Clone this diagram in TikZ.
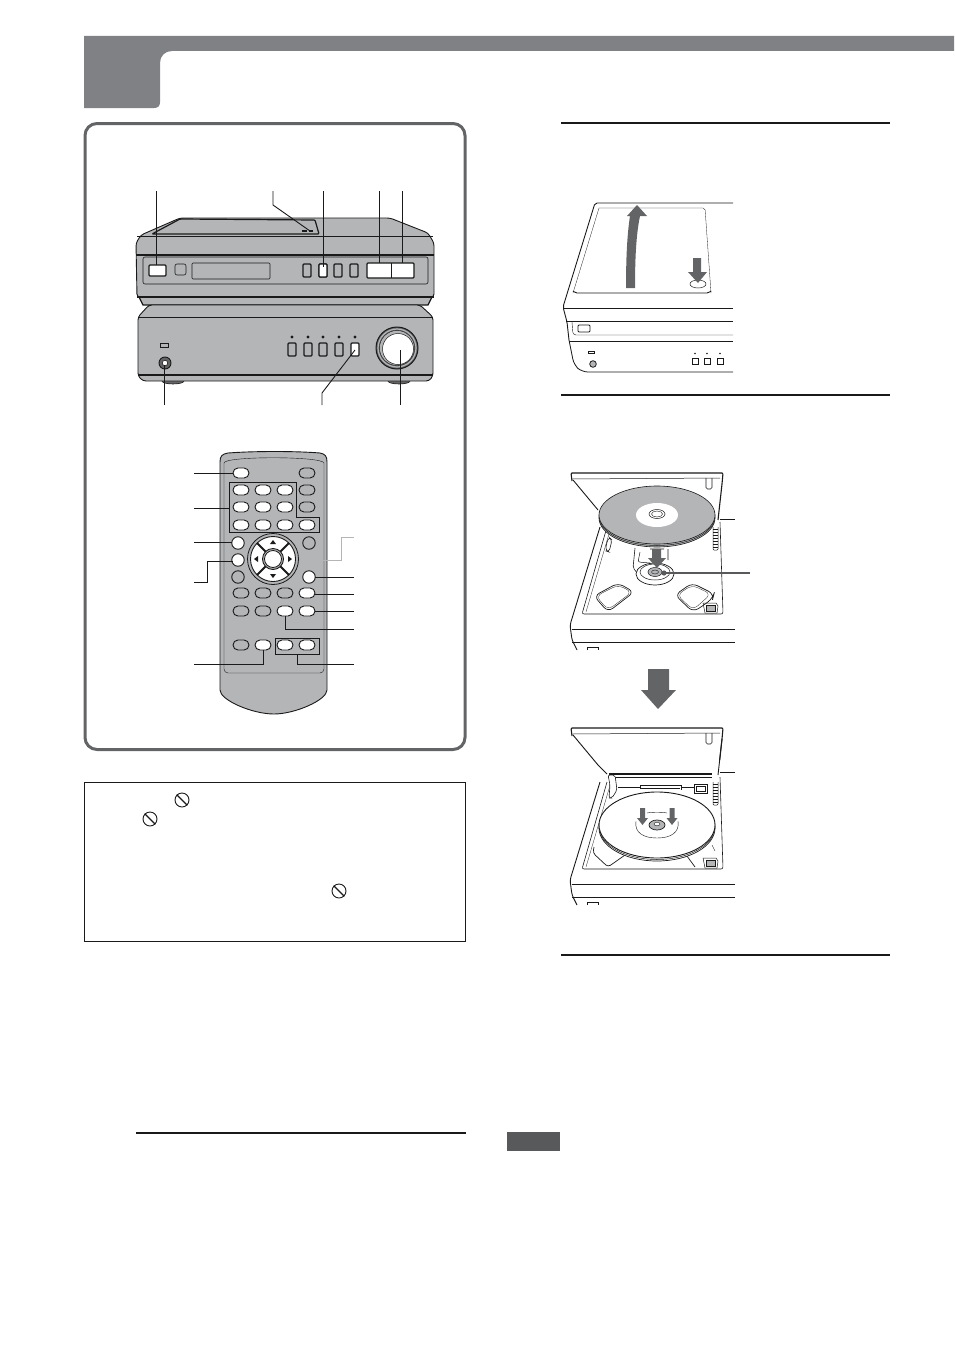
\documentclass[tikz,border=0pt]{standalone}
\usetikzlibrary{shapes.misc}
\definecolor{head-gray}{HTML}{808184}
\definecolor{frame-gray}{HTML}{636466}
\definecolor{face-gray}{HTML}{B4B5B7}
\definecolor{arrow-gray}{HTML}{636466}
\definecolor{note-gray}{HTML}{58595B}
\definecolor{ink}{HTML}{1A1A1A}
\tikzset{
  leader/.style={draw=ink, line width=0.9pt},
  rulebar/.style={draw=ink, line width=1.5pt},
  keyoval/.style={draw=ink, fill=face-gray, rounded rectangle, line width=0.9pt,
        minimum width=16pt, minimum height=10pt, inner sep=0pt},
  keyround/.style={draw=ink, fill=face-gray, circle, line width=0.9pt,
        minimum size=12.5pt, inner sep=0pt},
  unitkey/.style={draw=ink, fill=face-gray, line width=1.4pt, rounded corners=1pt},
  noentry/.style={draw=ink, fill=white, circle, line width=0.9pt, minimum size=14pt, inner sep=0pt},
  bigarrow/.style={fill=arrow-gray, draw=none},
}
% body, tray and lid shared by the two open views
\newcommand{\opendeck}{%
  \draw[ink, line width=0.9pt, rounded corners=3pt] (600,527) -- (570,625) -- (572,640) -- (577,650);
  \draw[ink, line width=0.6pt, rounded corners=2pt] (607,527) -- (582,614) -- (723,614) -- (720,522);
  \draw[ink, line width=0.3pt] (611,527) -- (586,612);
  \draw[ink, line width=0.4pt] (572,629) -- (735,629);
  \draw[ink, line width=0.9pt] (572,642) -- (735,642);
  \draw[ink, line width=0.6pt] (587,650) -- (587,647) -- (598,647) -- (598,650);
  \draw[ink, line width=1.1pt, rounded corners=1pt] (572,481) -- (571,473) -- (723,473) -- (722,484) -- (718,520);
  \draw[ink, line width=0.5pt] (572,479) -- (720,478);
  \draw[ink, line width=0.9pt] (573,480) -- (598,510);
  \draw[ink, line width=0.6pt, rounded corners=1.5pt] (706,478) -- (706,489) -- (712,489) -- (712,478);
  \draw[ink, line width=0.5pt, fill=white] (703,603) -- (716,603) -- (718,606) -- (717,613) -- (705,613) -- cycle;
  \draw[ink, line width=0.5pt, fill=face-gray] (706,605) rectangle (715,611);
  \foreach \ky in {529,532,...,549} {
    \draw[ink, line width=0.7pt] (713,\ky) -- (718,\ky);
  }
  \draw[ink, line width=0.5pt, rounded corners=1pt] (713,527) -- (713,550) -- (718,550) -- (718,527);
}
\begin{document}
\begin{tikzpicture}[x=1pt, y=-1pt]
  \useasboundingbox (0,0) rectangle (954,1346);
  % page header
  \fill[head-gray] (84,36) -- (954,36) -- (954,51) -- (172,51) .. controls (165,51) and (160,56) .. (160,63)
        -- (160,102) .. controls (160,106) and (158,108) .. (154,108) -- (84,108) -- cycle;
  % panel
  \draw[frame-gray, line width=3pt, rounded corners=12pt] (85,123.5) rectangle (465,749.5);

  % cd unit
  \filldraw[draw=ink, fill=face-gray, line width=0.9pt, rounded corners=3pt]
        (137,297) -- (136,243) -- (141,235) -- (180,218) -- (390,218) -- (428,233) -- (434,243) -- (434,297) -- cycle;
  \filldraw[draw=ink, fill=frame-gray, line width=0.6pt] (160,304) ellipse (12 and 4) (388,304) ellipse (12 and 4);
  \filldraw[draw=ink, fill=face-gray, line width=1.3pt] (139,297) -- (432,297) -- (428,305) -- (143,305) -- cycle;
  \filldraw[draw=ink, fill=face-gray, line width=1.2pt, rounded corners=1pt]
        (152,234) -- (180,219) -- (315,220) -- (319,234) -- cycle;
  \draw[ink, line width=0.4pt] (137,236) -- (433,236);
  \draw[ink, line width=1.3pt] (136,255) -- (434,255);
  \draw[ink, line width=1.6pt] (137,297) -- (434,297);
  \draw[ink, line width=1.2pt] (302,231) -- (307,231) (309,231) -- (313,231);
  \draw[ink, line width=0.6pt, rounded corners=2pt] (143,257) rectangle (428,284);
  \draw[unitkey, fill=white] (149,265) rectangle (166,276);
  \draw[ink, line width=0.6pt, rounded corners=2pt] (175,264) rectangle (186,275);
  \draw[ink, line width=0.6pt, rounded corners=1pt] (192,263) rectangle (270,279);
  \foreach \kx in {303,319,334,350} {
    \draw[unitkey] (\kx,264) rectangle ++(8,13);
  }
  \draw[unitkey, fill=white] (319,264) rectangle ++(8,13);
  \draw[unitkey, fill=white] (367,263) rectangle (414,278);
  \draw[ink, line width=0.8pt] (391,263) -- (391,278);

  % amplifier
  \filldraw[draw=ink, fill=frame-gray, line width=0.6pt] (173,381) ellipse (11 and 3) (399,381) ellipse (11 and 3);
  \filldraw[draw=ink, fill=face-gray, line width=0.9pt, rounded corners=3pt]
        (149,305) -- (420,305) -- (433,317) -- (433,376) -- (429,381) -- (143,381) -- (138,376) -- (138,317) -- cycle;
  \draw[ink, line width=0.4pt] (138,317) -- (433,317);
  \draw[ink, line width=1.1pt] (138,375) -- (433,375);
  \draw[ink, line width=0.7pt] (160,343) rectangle (168,347);
  \filldraw[draw=ink, fill=frame-gray, line width=0.9pt] (165,363) circle (6);
  \filldraw[draw=ink, fill=white, line width=0.6pt] (165,363) circle (2.8);
  \foreach \kx in {288,304,319,335} {
    \draw[unitkey] (\kx,343) rectangle ++(8,13);
    \fill[ink] (\kx+4,337) circle (1.6);
  }
  \draw[unitkey, fill=white] (351,343) rectangle ++(8,13);
  \fill[ink] (355,337) circle (1.6);
  \filldraw[draw=ink, fill=frame-gray, line width=1pt] (397,348) circle (21);
  \draw[face-gray, line width=1.2pt] (397,348) circle (19);
  \filldraw[draw=ink, fill=face-gray, line width=0.4pt] (397,348) circle (17.5);
  \filldraw[draw=ink, fill=white, line width=0.5pt] (398,349) circle (15.5);

  \draw[leader] (156,191) -- (156,265);
  \draw[leader] (273,191) -- (273,205) -- (310,231);
  \draw[leader] (323,191) -- (323,267);
  \draw[leader] (379,191) -- (379,263);
  \draw[leader] (402,191) -- (402,263);
  \draw[leader] (164,365) -- (164,405);
  \draw[leader] (322,405) -- (322,393) -- (355,350);
  \draw[leader] (400,350) -- (400,405);

  % remote
  \filldraw[draw=ink, fill=face-gray, line width=0.9pt]
        (220,462) .. controls (220,456) and (222,454) .. (228,453)
        .. controls (255,451) and (295,451) .. (320,453)
        .. controls (325,454) and (327,456) .. (327,462) -- (327,690)
        .. controls (327,700) and (295,714) .. (274,714)
        .. controls (252,714) and (220,700) .. (220,690) -- cycle;
  \draw[ink, line width=0.4pt, rounded corners=4pt] (224,463) -- (224,673) -- (324,673) -- (324,463);
  \draw[ink, line width=0.4pt] (224,463) .. controls (224,456) and (322,456) .. (324,463);
  \foreach \kx/\ky/\kf in {241/473/white, 307/473/face-gray,
        241/490/white, 263/490/white, 285/490/white, 307/490/face-gray,
        241/507/white, 263/507/white, 285/507/white, 307/507/face-gray,
        241/525/white, 263/525/white, 285/525/white, 307/525/white,
        241/593/face-gray, 263/593/face-gray, 285/593/face-gray, 307/593/white,
        241/611/face-gray, 263/611/face-gray, 285/611/white, 307/611/white,
        241/645/face-gray, 263/645/white, 285/645/white, 307/645/white} {
    \node[keyoval, fill=\kf] at (\kx,\ky) {};
  }
  \foreach \kx/\ky/\kf in {238/543/white, 309/543/face-gray, 238/560/white,
        238/577/face-gray, 309/577/white} {
    \node[keyround, fill=\kf] at (\kx,\ky) {};
  }
  \draw[ink, line width=1pt] (229,482) -- (296,482) -- (296,517) -- (319,517) -- (319,532) -- (229,532) -- cycle;
  \draw[ink, line width=1pt] (275,638) rectangle (319,654);
  % cursor pad
  \filldraw[draw=ink, fill=face-gray, line width=0.8pt] (273,559) circle (25.5);
  \filldraw[draw=ink, fill=white, line width=0.9pt] (273,559) circle (22.5);
  \filldraw[draw=ink, fill=face-gray, line width=0.9pt] (273,559) circle (10.5);
  \filldraw[draw=ink, fill=white, line width=0.8pt] (273,559) circle (8.5);
  \foreach \ka in {45,135,225,315} {
    \draw[ink, line width=1.8pt] (273,559) ++(\ka:10.5) -- ++(\ka:12);
  }
  \fill[ink] (273,540) -- (276,544) -- (270,544) -- cycle;
  \fill[ink] (273,578) -- (276,574) -- (270,574) -- cycle;
  \fill[ink] (254,559) -- (258,556) -- (258,562) -- cycle;
  \fill[ink] (292,559) -- (288,556) -- (288,562) -- cycle;

  \draw[leader] (194,473) -- (233,473);
  \draw[leader] (194,508) -- (229,508);
  \draw[leader] (194,542) -- (232,542);
  \draw[leader] (194,582) -- (207,582) -- (207,561) -- (233,561);
  \draw[leader] (194,664) -- (263,664) -- (263,650);
  \draw[leader, draw=face-gray] (354,537) -- (341,537) -- (341,560) -- (299,560);
  \draw[leader] (354,577) -- (315,577);
  \draw[leader] (354,594) -- (315,594);
  \draw[leader] (354,611) -- (315,611);
  \draw[leader] (354,629) -- (285,629) -- (285,616);
  \draw[leader] (354,664) -- (297,664) -- (297,654);

  % note box
  \draw[ink, line width=0.9pt] (84.5,782.5) rectangle (465.5,941);
  \foreach \ix/\iy in {182/800, 150/819, 339/891} {
    \node[noentry] (sign\ix) at (\ix,\iy) {};
    \draw[ink, line width=1.2pt] (sign\ix.north west) -- (sign\ix.south east);
  }

  % right column rules
  \draw[rulebar] (561,123) -- (890,123);
  \draw[rulebar] (561,395) -- (890,395);
  \draw[rulebar] (561,955) -- (890,955);
  \draw[rulebar] (136,1133) -- (466,1133);
  \fill[note-gray] (507,1132) rectangle (560,1151);

  % closed lid view
  \draw[ink, line width=0.9pt, rounded corners=2pt] (733,203) -- (595,203) -- (563,307) -- (567,322) -- (569,340);
  \draw[ink, line width=0.8pt, rounded corners=6pt] (569,340) -- (574,365) -- (582,372) -- (733,372);
  \draw[ink, line width=0.4pt] (563,308) -- (733,308);
  \draw[ink, line width=0.9pt] (566,321) -- (733,321);
  \draw[ink, line width=0.4pt, rounded corners=3pt] (572,322) -- (573,335) -- (733,335);
  \draw[ink, line width=0.9pt] (569,341) -- (733,341);
  \draw[ink, line width=0.3pt, rounded corners=2pt] (599,208) -- (705,208) -- (711,293);
  \draw[ink, line width=0.3pt, rounded corners=2pt] (599,208) -- (573,293);
  \draw[ink, line width=0.9pt, rounded corners=2pt] (573,291) -- (575,293) -- (709,293) -- (711,291);
  \draw[ink, line width=0.5pt] (698,284) ellipse (8 and 4);
  \draw[ink, line width=0.8pt, rounded corners=1pt] (578,325) rectangle (590,332);
  \draw[ink, line width=0.5pt] (588,351) rectangle (594,353);
  \filldraw[draw=ink, fill=face-gray, line width=0.8pt] (593,364) circle (3.3);
  \foreach \kx in {692,704,717} {
    \draw[ink, line width=0.8pt] (\kx,358) rectangle ++(6,6);
    \fill[ink] (\kx+3,353.5) circle (0.9);
  }
  \fill[bigarrow] (626,288) .. controls (626,260) and (627,235) .. (630,216) -- (627,216) -- (637,205)
        -- (647,216) -- (640,216) .. controls (636,235) and (635,260) .. (635,288) -- cycle;
  \fill[bigarrow] (693,258) -- (701,258) -- (701,272) -- (707,272) -- (698,283) -- (688,272) -- (693,272) -- cycle;

  % disc going in
  \opendeck
  \draw[ink, line width=0.6pt, rounded corners=2pt] (635,548) -- (633,568) -- (640,576) (650,549) -- (664,549) (668,549) -- (668,560);
  \draw[ink, line width=0.5pt, rounded corners=2pt] (640,552) -- (638,562) -- (650,563);
  \filldraw[draw=ink, fill=white, line width=0.7pt] (655,574) ellipse (19 and 11);
  \draw[ink, line width=0.5pt] (655,572) ellipse (15 and 8);
  \filldraw[draw=ink, fill=face-gray, line width=0.5pt] (655,572) ellipse (7 and 4.5);
  \draw[ink, line width=0.4pt] (655,572) ellipse (3.5 and 2);
  \draw[draw=note-gray, line width=1.2pt] (664,573) -- (750,573);
  \fill[note-gray] (664,573) circle (2.6);
  \draw[ink, line width=0.6pt, rounded corners=3pt] (606,545) -- (609,537) -- (612,540) -- (609,552) -- (606,551) -- cycle;
  \draw[ink, line width=0.7pt, rounded corners=6pt] (594,596) -- (618,583) -- (634,592) -- (608,612) -- cycle;
  \draw[ink, line width=0.3pt, rounded corners=6pt] (596,596) -- (618,585) -- (632,592) -- (608,610) -- cycle;
  \draw[ink, line width=0.7pt, rounded corners=6pt] (675,595) -- (692,583) -- (714,594) -- (713,598) -- (704,605) -- (693,612) -- cycle;
  \draw[ink, line width=0.3pt, rounded corners=6pt] (677,595) -- (692,585) -- (711,594) -- (693,610) -- cycle;
  \draw[ink, line width=0.9pt] (720,519) -- (735,519);
  \filldraw[draw=ink, fill=face-gray, line width=0.6pt] (657,518) ellipse (58 and 29);
  \filldraw[draw=ink, fill=face-gray, line width=0.5pt] (657,516.5) ellipse (58 and 29);
  \filldraw[draw=ink, fill=face-gray, line width=0.6pt] (657,515) ellipse (58 and 29);
  \filldraw[draw=none, fill=white] (657,515) ellipse (21 and 12);
  \filldraw[draw=ink, fill=white, line width=0.5pt] (657,514) ellipse (8 and 4.5);
  \draw[ink, line width=0.4pt] (657,514) ellipse (5.5 and 3);
  \fill[bigarrow] (652,549) -- (661,549) -- (661,558) -- (666,558) -- (657,568) -- (648,558) -- (652,558) -- cycle;

  % big step arrow
  \fill[bigarrow] (648,669) -- (669,669) -- (669,690) -- (676,690) -- (658,709) -- (641,690) -- (648,690) -- cycle;

  % disc seated
  \begin{scope}[shift={(0,255)}]
    \opendeck
    \fill[white] (599,505) -- (722,505) -- (722,521) -- (599,521) -- cycle;
    \draw[ink, line width=1.3pt] (609,519) -- (712,519);
    \draw[ink, line width=0.4pt] (609,522) -- (712,522);
    \draw[ink, line width=0.9pt] (598,510) -- (607,519);
    \draw[ink, line width=0.9pt] (722,484) -- (718,520);
    \draw[ink, line width=0.9pt] (720,517) -- (735,517);
    \draw[ink, line width=0.5pt] (618,532) -- (640,532) (640,534) -- (640,530) -- (681,530) -- (681,535) (681,532) -- (694,532);
    \draw[ink, line width=0.3pt] (641,533) -- (680,533);
    \filldraw[draw=ink, fill=white, line width=0.6pt] (694,529) rectangle (707,538);
    \draw[ink, line width=0.4pt] (696,531) rectangle (705,536);
    \filldraw[draw=ink, fill=white, line width=0.6pt, rounded corners=2pt]
          (608,520) -- (615,520) -- (617,535) -- (612,543) -- (609,543) -- (610,530) -- cycle;
    \draw[ink, line width=0.7pt, rounded corners=3pt] (594,592) -- (593,598) -- (608,612) -- (625,600);
    \draw[ink, line width=0.7pt] (684,597) -- (695,612);
    \draw[ink, line width=0.4pt] (712,590) -- (715,596);
    \filldraw[draw=ink, fill=white, line width=0.7pt] (657,573) ellipse (58 and 33);
    \filldraw[draw=ink, fill=white, line width=0.5pt] (657,571.5) ellipse (58 and 33);
    \filldraw[draw=ink, fill=white, line width=0.9pt] (657,570) ellipse (58 and 33);
    \draw[ink, line width=0.4pt] (647,558) .. controls (652,557) and (662,557) .. (667,558);
    \draw[ink, line width=0.4pt] (678,566) .. controls (680,578) and (670,583) .. (657,583) .. controls (644,583) and (634,578) .. (636,566);
    \filldraw[draw=ink, fill=face-gray, line width=0.7pt] (657,570) ellipse (8 and 5);
    \draw[ink, line width=0.4pt, fill=white] (657,569) ellipse (3 and 1.8);
    \fill[bigarrow] (640,553) -- (645,553) -- (645,563) -- (648,563) -- (642.5,570) -- (637,563) -- (640,563) -- cycle;
    \fill[bigarrow] (669.5,553) -- (674.5,553) -- (674.5,563) -- (677.5,563) -- (672,570) -- (666.5,563) -- (669.5,563) -- cycle;
  \end{scope}
\end{tikzpicture}
\end{document}
